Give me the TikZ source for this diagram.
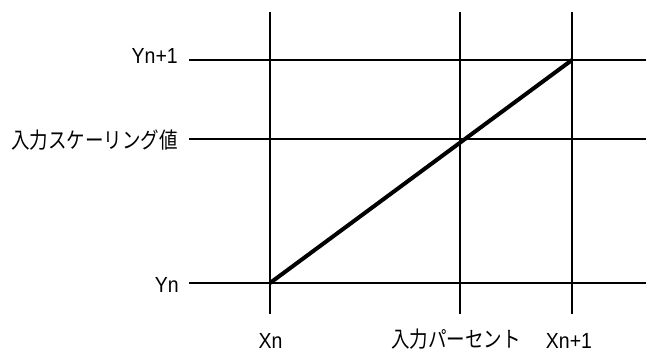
\documentclass[tikz,border=0pt]{standalone}
\usepackage{graphicx}
\usepackage{fontspec}
\setmainfont{Liberation Sans}
\newfontfamily\jpfont{Noto Sans CJK JP}
\newcommand{\latxt}[1]{\scalebox{1}[1.12]{#1}}
\newcommand{\jptxt}[1]{\scalebox{1}[1.2]{\jpfont #1}}
\usetikzlibrary{positioning}

\begin{document}
\begin{tikzpicture}[x=1pt, y=-1pt,
	gridline/.style={line width=1.4pt},
	lbl/.style={font=\fontsize{19.5}{21}\selectfont, inner sep=0pt},
	jlbl/.style={font=\fontsize{18.5}{21}\selectfont, inner sep=0pt}]
	\useasboundingbox (0,0) rectangle (646,352);
	% Grid ends
	\coordinate (xnt) at (270,12);   \coordinate (xnb) at (270,314);
	\coordinate (pt)  at (460,12);   \coordinate (pb)  at (460,314);
	\coordinate (xmt) at (572,12);   \coordinate (xmb) at (572,314);
	\coordinate (ytl) at (189,60);   \coordinate (ytr) at (646,60);
	\coordinate (sl)  at (189,139);  \coordinate (sr)  at (646,139);
	\coordinate (ynl) at (189,283);  \coordinate (ynr) at (646,283);
	% Vertical lines
	\draw[gridline] (xnt) -- (xnb);
	\draw[gridline] (pt) -- (pb);
	\draw[gridline] (xmt) -- (xmb);
	% Horizontal lines
	\draw[gridline] (ytl) -- (ytr);
	\draw[gridline] (sl) -- (sr);
	\draw[gridline] (ynl) -- (ynr);
	% Interpolation line
	\coordinate (lo) at (270,283);
	\coordinate (hi) at (572,60);
	\draw[line width=4pt] (lo) -- (hi);
	% Left labels
	\node[lbl, anchor=base east] (yhi) at (178,63.5) {\latxt{Yn+1}};
	\node[jlbl, anchor=base east] (scal) at (178,148.5) {\jptxt{入力スケーリング値}};
	\node[lbl, anchor=base east] (ylo) at (179,292.5) {\latxt{Yn}};
	% Bottom labels
	\node[lbl, anchor=base] (xlo) at (270.5,348.5) {\latxt{Xn}};
	\node[jlbl, anchor=base] (pct) at (456,348) {\jptxt{入力パーセント}};
	\node[lbl, anchor=base] (xhi) at (569,348.5) {\latxt{Xn+1}};
\end{tikzpicture}
\end{document}
